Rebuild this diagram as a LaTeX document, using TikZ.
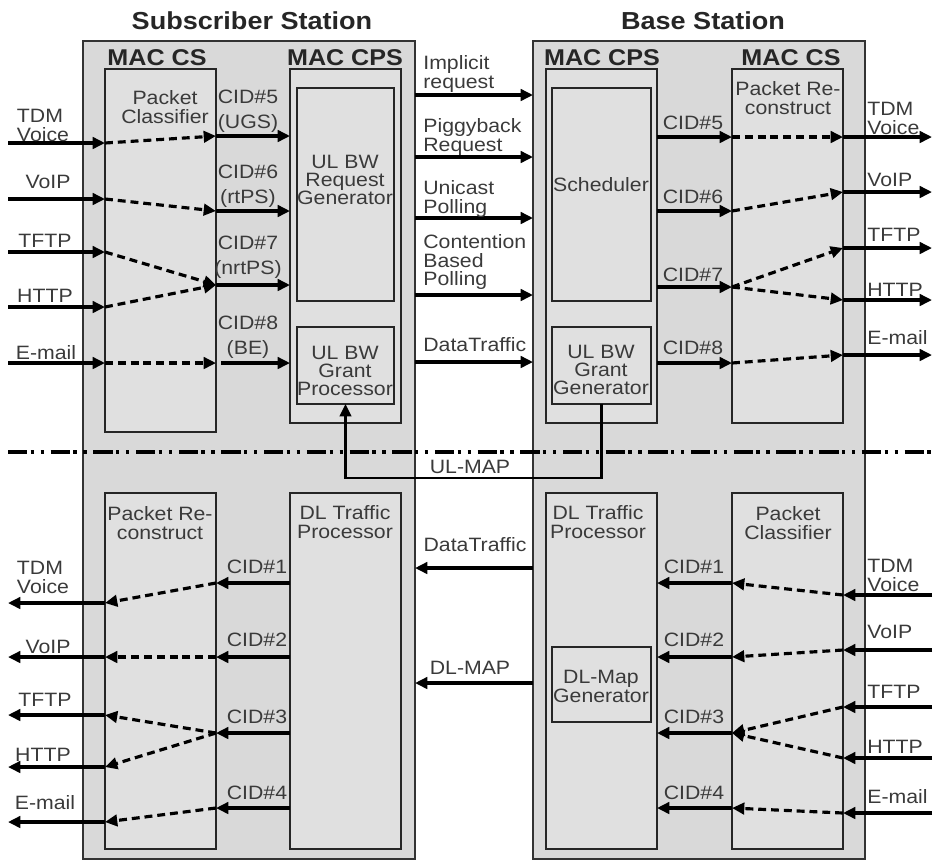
\documentclass[tikz,border=0pt]{standalone}
\usepackage{fontspec}
\setmainfont{Liberation Sans}[FakeStretch=1.1]
\usetikzlibrary{arrows.meta}
\definecolor{boxgray}{HTML}{D9D9D9}
\definecolor{innergray}{HTML}{E0E0E0}
\definecolor{txt}{HTML}{3A3A3A}
\newcommand{\boxat}[6]{%
  \pgfmathsetmacro{\myBW}{(#4-#2)*0.02}%
  \pgfmathsetmacro{\myBH}{(#5-#3)*0.02}%
  \node[#6, minimum width=\myBW cm, minimum height=\myBH cm, inner sep=0pt, outer sep=0pt] (#1) at ({(#2+#4)/2},{(#3+#5)/2}) {};%
}
\begin{document}
\begin{tikzpicture}[x=0.02cm,y=-0.02cm,
  outerbox/.style={draw=black!80, line width=1.2pt, fill=boxgray},
  innerbox/.style={draw=black!85, line width=1.3pt, fill=innergray},
  lbl/.style={font=\fontsize{11}{10.8}\selectfont, text=txt, inner sep=0pt, align=center},
  lbll/.style={font=\fontsize{11}{10.8}\selectfont, text=txt, inner sep=0pt, align=left},
  boxlbl/.style={font=\fontsize{11}{10}\selectfont, text=txt, inner sep=0pt, align=center},
  cidlbl/.style={font=\fontsize{11}{14}\selectfont, text=txt, inner sep=0pt, align=center},
  ttl/.style={font=\fontsize{14}{15}\selectfont\bfseries, text=black!85, inner sep=0pt},
  macttl/.style={font=\fontsize{13}{14}\selectfont\bfseries, text=black!85, inner sep=0pt},
  flow/.style={line width=1.8pt, -{Triangle[length=7pt,width=6.5pt]}},
  dflow/.style={line width=1.8pt, dash pattern=on 4.5pt off 2.8pt, -{Triangle[length=7pt,width=6.5pt]}},
  dashdotline/.style={line width=2.6pt, dash pattern=on 11pt off 1.9pt on 1.9pt off 3.8pt on 1.9pt off 3.8pt},
  ]
\useasboundingbox (0,0) rectangle (933,863);

% titles
\node[ttl] (tss) at (252,21) {Subscriber Station};
\node[ttl] (tbs) at (703,21) {Base Station};

% big boxes
\boxat{ss}{83}{41}{415}{859}{outerbox}
\boxat{bs}{533}{41}{865}{859}{outerbox}

\node[macttl] (sscs) at (157,58) {MAC CS};
\node[macttl] (sscps) at (345,58) {MAC CPS};
\node[macttl] (bscps) at (602,58) {MAC CPS};
\node[macttl] (bscs) at (791,58) {MAC CS};

% inner boxes top
\boxat{sspc}{105}{69}{216}{432}{innerbox}
\boxat{sscpsb}{290}{69}{401}{423}{innerbox}
\boxat{ulreq}{297}{88}{394}{301}{innerbox}
\boxat{ulgp}{297}{327}{394}{404}{innerbox}
\boxat{bscpsb}{546}{69}{657}{423}{innerbox}
\boxat{sched}{552}{88}{651}{301}{innerbox}
\boxat{ulgg}{552}{327}{651}{404}{innerbox}
\boxat{bsprc}{732}{69}{843}{423}{innerbox}
% inner boxes bottom
\boxat{ssprc}{105}{493}{216}{849}{innerbox}
\boxat{ssdl}{290}{493}{401}{849}{innerbox}
\boxat{bsdl}{546}{493}{657}{849}{innerbox}
\boxat{dlmap}{552}{647}{651}{722}{innerbox}
\boxat{bspc}{732}{493}{843}{849}{innerbox}

% box texts
\node[lbl] (t1) at (165,107) {Packet\\Classifier};
\node[boxlbl] (t2) at (345,180) {UL BW\\Request\\Generator};
\node[boxlbl] (t3) at (345,371) {UL BW\\Grant\\Processor};
\node[lbl] (t4) at (601,185) {Scheduler};
\node[boxlbl] (t5) at (601,370) {UL BW\\Grant\\Generator};
\node[lbl] (t6) at (788,98) {Packet Re-\\construct};
\node[lbl] (t7) at (160,523) {Packet Re-\\construct};
\node[lbl] (t8) at (345,522) {DL Traffic\\Processor};
\node[lbl] (t9) at (598,522) {DL Traffic\\Processor};
\node[lbl] (t10) at (601,686) {DL-Map\\Generator};
\node[lbl] (t11) at (788,523) {Packet\\Classifier};

% free end coordinates
\foreach \y/\n in {143/a,199/b,252/c,307/d,363/e}{\coordinate (L\n) at (8,\y);}
\foreach \y/\n in {137/a,192/b,248/c,300/d,355/e}{\coordinate (R\n) at (932,\y);}
\foreach \y/\n in {603/a,657/b,715/c,767/d,822/e}{\coordinate (LB\n) at (8,\y);}
\foreach \y/\n in {595/a,650/b,707/c,758/d,813/e}{\coordinate (RB\n) at (932,\y);}

% SS top flows
\draw[flow] (La) -- (sspc.west |- La);
\draw[flow] (Lb) -- (sspc.west |- Lb);
\draw[flow] (Lc) -- (sspc.west |- Lc);
\draw[flow] (Ld) -- (sspc.west |- Ld);
\draw[flow] (Le) -- (sspc.west |- Le);
\draw[dflow] (sspc.west |- La) -- (sspc.east |- 0,136);
\draw[dflow] (sspc.west |- Lb) -- (sspc.east |- 0,211);
\draw[dflow] (sspc.west |- Lc) -- (sspc.east |- 0,285);
\draw[dflow] (sspc.west |- Ld) -- (sspc.east |- 0,285);
\draw[dflow] (sspc.west |- Le) -- (sspc.east |- 0,363);
\draw[flow] (sspc.east |- 0,136) -- (sscpsb.west |- 0,136);
\draw[flow] (sspc.east |- 0,211) -- (sscpsb.west |- 0,211);
\draw[flow] (sspc.east |- 0,285) -- (sscpsb.west |- 0,285);
\draw[flow] ([xshift=3pt]sspc.east |- 0,363) -- (sscpsb.west |- 0,363);

% SS top labels
\node[lbll] (l1) at (43,125) {TDM\\Voice};
\node[lbl] (l2) at (48,182) {VoIP};
\node[lbl] (l3) at (45,241) {TFTP};
\node[lbl] (l4) at (45,296) {HTTP};
\node[lbl] (l5) at (46,353) {E-mail};
\node[cidlbl] (c5) at (248,111) {CID\#5\\(UGS)};
\node[cidlbl] (c6) at (248,186) {CID\#6\\(rtPS)};
\node[cidlbl] (c7) at (248,257) {CID\#7\\(nrtPS)};
\node[cidlbl] (c8) at (248,337) {CID\#8\\(BE)};

% middle top
\draw[flow] (ss.east |- 0,95) -- (bs.west |- 0,95);
\draw[flow] (ss.east |- 0,157) -- (bs.west |- 0,157);
\draw[flow] (ss.east |- 0,218) -- (bs.west |- 0,218);
\draw[flow] (ss.east |- 0,295) -- (bs.west |- 0,295);
\draw[flow] (ss.east |- 0,362) -- (bs.west |- 0,362);
\node[lbll, anchor=west] (m1) at (423,74) {Implicit\\request};
\node[lbll, anchor=west] (m2) at (423,137) {Piggyback\\Request};
\node[lbll, anchor=west] (m3) at (423,199) {Unicast\\Polling};
\node[lbll, anchor=west] (m4) at (423,262) {Contention\\Based\\Polling};
\node[lbll, anchor=west] (m5) at (423,345) {DataTraffic};

% BS top flows
\draw[flow] (bscpsb.east |- 0,137) -- (bsprc.west |- 0,137);
\draw[flow] (bscpsb.east |- 0,211) -- (bsprc.west |- 0,211);
\draw[flow] (bscpsb.east |- 0,287) -- (bsprc.west |- 0,287);
\draw[flow] (bscpsb.east |- 0,363) -- (bsprc.west |- 0,363);
\draw[dflow] (bsprc.west |- 0,137) -- (bsprc.east |- Ra);
\draw[dflow] (bsprc.west |- 0,211) -- (bsprc.east |- Rb);
\draw[dflow] (bsprc.west |- 0,287) -- (bsprc.east |- Rc);
\draw[dflow] (bsprc.west |- 0,287) -- (bsprc.east |- Rd);
\draw[dflow] (bsprc.west |- 0,363) -- (bsprc.east |- Re);
\draw[flow] (bsprc.east |- Ra) -- (Ra);
\draw[flow] (bsprc.east |- Rb) -- (Rb);
\draw[flow] (bsprc.east |- Rc) -- (Rc);
\draw[flow] (bsprc.east |- Rd) -- (Rd);
\draw[flow] (bsprc.east |- Re) -- (Re);
\node[cidlbl] (b5) at (693,123) {CID\#5};
\node[cidlbl] (b6) at (693,197) {CID\#6};
\node[cidlbl] (b7) at (693,275) {CID\#7};
\node[cidlbl] (b8) at (693,348) {CID\#8};
\node[lbll, anchor=west] (r1) at (867,118) {TDM\\Voice};
\node[lbll, anchor=west] (r2) at (867,180) {VoIP};
\node[lbll, anchor=west] (r3) at (867,235) {TFTP};
\node[lbll, anchor=west] (r4) at (867,290) {HTTP};
\node[lbll, anchor=west] (r5) at (867,338) {E-mail};

% UL-MAP
\draw[line width=1.5pt, -{Triangle[length=7pt,width=6.5pt]}] (ulgg.south) -- (ulgg.south |- 0,478) -- (ulgp.south |- 0,478) -- (ulgp.south);
\node[lbl] (ulmap) at (470,467) {UL-MAP};

% dash-dot separator
\coordinate (sepL) at (8,452);
\coordinate (sepR) at (933,452);
\draw[dashdotline] (sepL) -- (sepR);

% middle bottom
\draw[flow] (bs.west |- 0,568) -- (ss.east |- 0,568);
\draw[flow] (bs.west |- 0,683) -- (ss.east |- 0,683);
\node[lbl] (m6) at (475,545) {DataTraffic};
\node[lbl] (m7) at (470,668) {DL-MAP};

% BS bottom flows
\draw[flow] (RBa) -- (bspc.east |- RBa);
\draw[flow] (RBb) -- (bspc.east |- RBb);
\draw[flow] (RBc) -- (bspc.east |- RBc);
\draw[flow] (RBd) -- (bspc.east |- RBd);
\draw[flow] (RBe) -- (bspc.east |- RBe);
\draw[dflow] (bspc.east |- RBa) -- (bspc.west |- 0,583);
\draw[dflow] (bspc.east |- RBb) -- (bspc.west |- 0,657);
\draw[dflow] (bspc.east |- RBc) -- (bspc.west |- 0,733);
\draw[dflow] (bspc.east |- RBd) -- (bspc.west |- 0,733);
\draw[dflow] (bspc.east |- RBe) -- (bspc.west |- 0,808);
\draw[flow] (bspc.west |- 0,583) -- (bsdl.east |- 0,583);
\draw[flow] (bspc.west |- 0,657) -- (bsdl.east |- 0,657);
\draw[flow] (bspc.west |- 0,733) -- (bsdl.east |- 0,733);
\draw[flow] (bspc.west |- 0,808) -- (bsdl.east |- 0,808);
\node[cidlbl] (d1) at (694,567) {CID\#1};
\node[cidlbl] (d2) at (694,640) {CID\#2};
\node[cidlbl] (d3) at (694,717) {CID\#3};
\node[cidlbl] (d4) at (694,793) {CID\#4};
\node[lbll, anchor=west] (rb1) at (867,575) {TDM\\Voice};
\node[lbll, anchor=west] (rb2) at (867,632) {VoIP};
\node[lbll, anchor=west] (rb3) at (867,692) {TFTP};
\node[lbll, anchor=west] (rb4) at (867,747) {HTTP};
\node[lbll, anchor=west] (rb5) at (867,797) {E-mail};

% SS bottom flows
\draw[flow] (ssdl.west |- 0,583) -- (ssprc.east |- 0,583);
\draw[flow] (ssdl.west |- 0,657) -- (ssprc.east |- 0,657);
\draw[flow] (ssdl.west |- 0,733) -- (ssprc.east |- 0,733);
\draw[flow] (ssdl.west |- 0,808) -- (ssprc.east |- 0,808);
\draw[dflow] (ssprc.east |- 0,583) -- (ssprc.west |- LBa);
\draw[dflow] (ssprc.east |- 0,657) -- (ssprc.west |- LBb);
\draw[dflow] (ssprc.east |- 0,733) -- (ssprc.west |- LBc);
\draw[dflow] (ssprc.east |- 0,733) -- (ssprc.west |- LBd);
\draw[dflow] (ssprc.east |- 0,808) -- (ssprc.west |- LBe);
\draw[flow] (ssprc.west |- LBa) -- (LBa);
\draw[flow] (ssprc.west |- LBb) -- (LBb);
\draw[flow] (ssprc.west |- LBc) -- (LBc);
\draw[flow] (ssprc.west |- LBd) -- (LBd);
\draw[flow] (ssprc.west |- LBe) -- (LBe);
\node[cidlbl] (e1) at (257,567) {CID\#1};
\node[cidlbl] (e2) at (257,640) {CID\#2};
\node[cidlbl] (e3) at (257,717) {CID\#3};
\node[cidlbl] (e4) at (257,793) {CID\#4};
\node[lbll] (lb1) at (43,577) {TDM\\Voice};
\node[lbl] (lb2) at (48,647) {VoIP};
\node[lbl] (lb3) at (45,700) {TFTP};
\node[lbl] (lb4) at (43,755) {HTTP};
\node[lbl] (lb5) at (45,803) {E-mail};
\end{tikzpicture}
\end{document}
